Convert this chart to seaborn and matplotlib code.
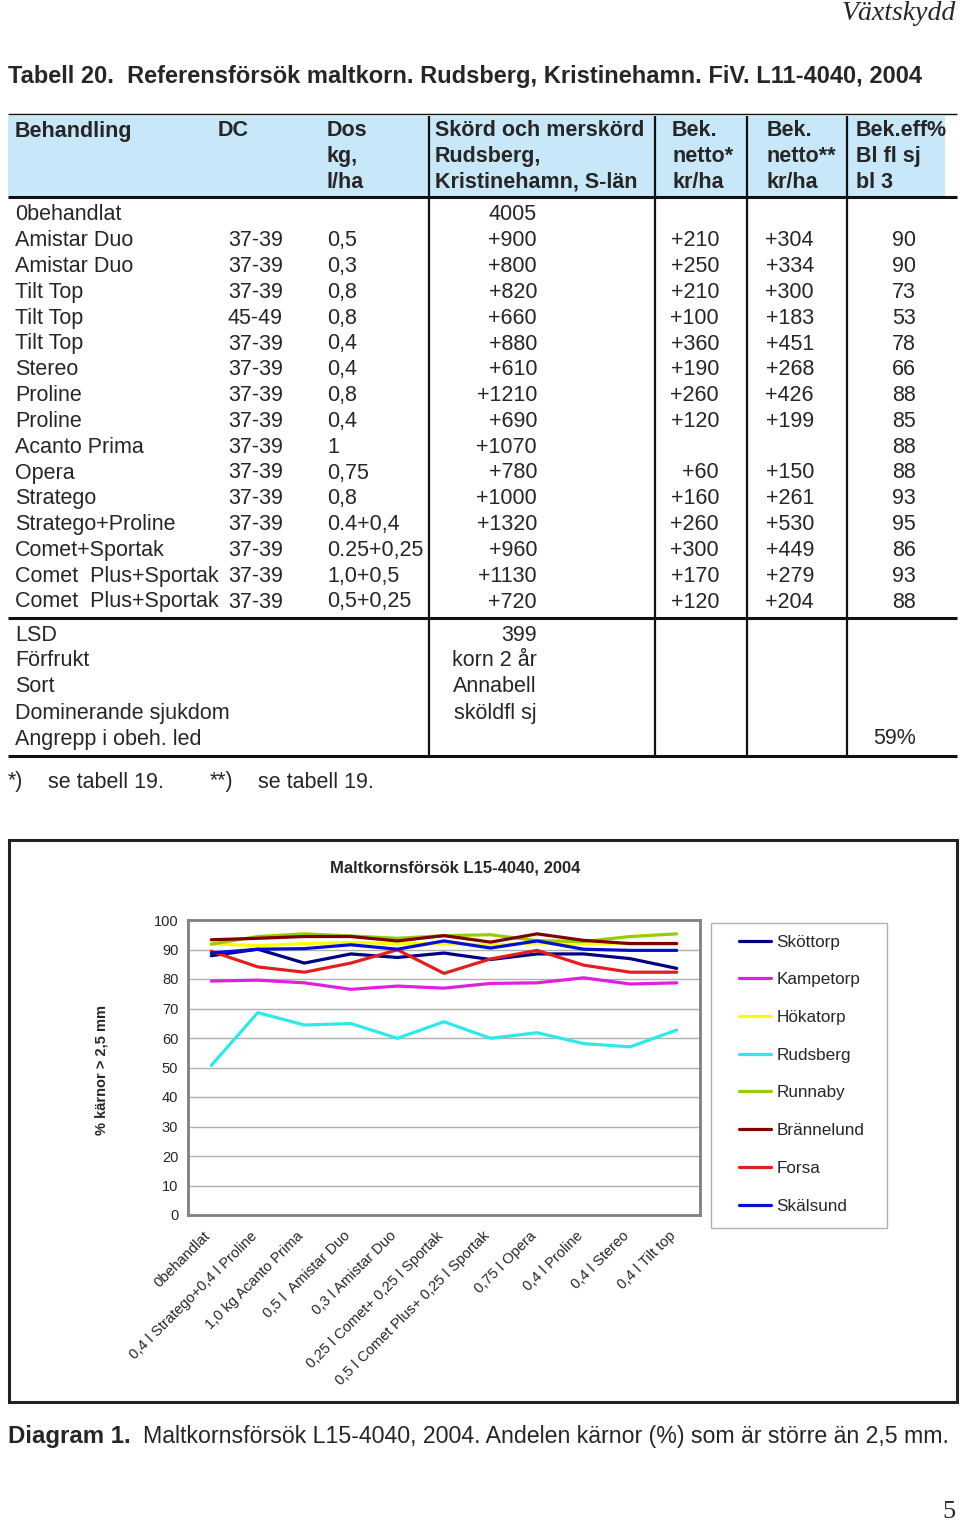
import numpy as np
import pandas as pd
import matplotlib
matplotlib.use("Agg")
import matplotlib.pyplot as plt
import matplotlib.transforms as mtransforms
import seaborn as sns
from matplotlib.patches import Rectangle
from matplotlib.lines import Line2D

# ---------------- data ----------------
behandling = ["0behandlat", "Amistar Duo", "Amistar Duo", "Tilt Top", "Tilt Top", "Tilt Top",
              "Stereo", "Proline", "Proline", "Acanto Prima", "Opera", "Stratego",
              "Stratego+Proline", "Comet+Sportak", "Comet  Plus+Sportak", "Comet  Plus+Sportak"]
dc = ["", "37-39", "37-39", "37-39", "45-49", "37-39", "37-39", "37-39", "37-39", "37-39",
      "37-39", "37-39", "37-39", "37-39", "37-39", "37-39"]
dos = ["", "0,5", "0,3", "0,8", "0,8", "0,4", "0,4", "0,8", "0,4", "1", "0,75", "0,8",
       "0.4+0,4", "0.25+0,25", "1,0+0,5", "0,5+0,25"]
skord = ["4005", "+900", "+800", "+820", "+660", "+880", "+610", "+1210", "+690", "+1070",
         "+780", "+1000", "+1320", "+960", "+1130", "+720"]
netto1 = ["", "+210", "+250", "+210", "+100", "+360", "+190", "+260", "+120", "", "+60",
          "+160", "+260", "+300", "+170", "+120"]
netto2 = ["", "+304", "+334", "+300", "+183", "+451", "+268", "+426", "+199", "", "+150",
          "+261", "+530", "+449", "+279", "+204"]
beff = ["", "90", "90", "73", "53", "78", "66", "88", "85", "88", "88", "93", "95", "86", "93", "88"]

extra_labels = ["LSD", "Förfrukt", "Sort", "Dominerande sjukdom", "Angrepp i obeh. led"]
extra_values = ["399", "korn 2 år", "Annabell", "sköldfl sj", ""]
angrepp = "59%"

header_cols = [["Behandling"], ["DC"], ["Dos", "kg,", "l/ha"],
               ["Skörd och merskörd", "Rudsberg,", "Kristinehamn, S-län"],
               ["Bek.", "netto*", "kr/ha"], ["Bek.", "netto**", "kr/ha"],
               ["Bek.eff", "Bl fl sj", "bl 3"]]

categories = ["0behandlat", "0,4 l Stratego+0,4 l Proline", "1,0 kg Acanto Prima",
              "0,5 l  Amistar Duo", "0,3 l Amistar Duo", "0,25 l Comet+ 0,25 l Sportak",
              "0,5 l Comet Plus+ 0,25 l Sportak", "0,75 l Opera", "0,4 l Proline",
              "0,4 l Stereo", "0,4 l Tilt top"]
stations = ["Sköttorp", "Kampetorp", "Hökatorp", "Rudsberg", "Runnaby", "Brännelund",
            "Forsa", "Skälsund"]
skottorp = [87.9, 90.1, 85.4, 88.5, 87.3, 88.8, 86.6, 88.5, 88.5, 86.9, 83.6]
kampetorp = [79.3, 79.6, 78.7, 76.5, 77.6, 76.9, 78.5, 78.7, 80.4, 78.3, 78.7]
hokatorp = [91.9, 91.3, 92.0, 92.4, 92.0, 92.0, 91.5, 92.2, 91.9, 92.2, 92.2]
rudsberg = [50.7, 68.6, 64.4, 64.9, 59.9, 65.5, 59.9, 61.8, 58.1, 57.0, 62.7]
runnaby = [91.8, 94.4, 95.3, 94.6, 93.8, 94.7, 95.0, 93.0, 92.7, 94.4, 95.3]
brannelund = [93.3, 93.8, 94.4, 94.4, 92.9, 94.7, 92.5, 95.3, 93.1, 92.0, 92.0]
forsa = [89.4, 84.1, 82.3, 85.4, 89.9, 81.9, 86.8, 89.7, 84.7, 82.3, 82.3]
skalsund = [88.8, 90.1, 90.3, 91.6, 90.1, 92.9, 90.5, 92.9, 90.1, 89.7, 89.7]
series = [skottorp, kampetorp, hokatorp, rudsberg, runnaby, brannelund, forsa, skalsund]
colors = ["#000080", "#e020e0", "#ffff00", "#30e8e8", "#99cc00", "#800000", "#e02020", "#0010d0"]

# ---------------- figure ----------------
W, H = 960, 1524
sns.set_style("white")
plt.rcParams["font.family"] = ["Liberation Sans", "DejaVu Sans"]
NARROW = ["Liberation Sans Narrow", "Liberation Sans", "DejaVu Sans"]

fig = plt.figure(figsize=(W / 100, H / 100), dpi=100)


def fx(x):
    return x / W


def fy(y):
    return 1 - y / H


def txt(x, y, s, **kw):
    kw.setdefault("va", "center")
    fig.text(fx(x), fy(y), s, **kw)


def line(x0, y0, x1, y1, lw, color="#111111"):
    fig.add_artist(Line2D([fx(x0), fx(x1)], [fy(y0), fy(y1)], color=color, lw=lw,
                          transform=fig.transFigure, solid_capstyle="butt"))


# page header
txt(956, 13, "Växtskydd", ha="right", fontsize=20, style="italic", family="Liberation Serif")
txt(8, 76, "Tabell 20.  Referensförsök maltkorn. Rudsberg, Kristinehamn. FiV. L11-4040, 2004",
    ha="left", fontsize=17, fontweight="bold", family=NARROW)

# table header band
fig.add_artist(Rectangle((fx(8), fy(196)), (945 - 8) / W, (196 - 116) / H,
                         facecolor="#c8e7f8", edgecolor="none", transform=fig.transFigure))
line(8, 114, 957, 114, 1.0)
line(8, 197, 957, 197, 2.2)
line(8, 618, 957, 618, 2.2)
line(8, 756, 957, 756, 2.2)
for xv in [429, 655, 747, 847]:
    line(xv, 116, xv, 756, 1.6)

hx = [15, 218, 327, 435, 672, 767, 856]
for x, lines_ in zip(hx, header_cols):
    for k, s in enumerate(lines_):
        txt(x, 131 + k * 25.5, s, ha="left", fontsize=15.5, fontweight="bold", family=NARROW)
txt(946, 131, "%", ha="right", fontsize=15.5, fontweight="bold", family=NARROW)

# table body
body_fs = 15.5
for i in range(len(behandling)):
    y = 215 + i * 25.8
    txt(15, y, behandling[i], ha="left", fontsize=body_fs)
    txt(228, y, dc[i], ha="left", fontsize=body_fs)
    txt(327, y, dos[i], ha="left", fontsize=body_fs)
    txt(537, y, skord[i], ha="right", fontsize=body_fs)
    txt(719, y, netto1[i], ha="right", fontsize=body_fs)
    txt(814, y, netto2[i], ha="right", fontsize=body_fs)
    txt(916, y, beff[i], ha="right", fontsize=body_fs)

for i, (lab, val) in enumerate(zip(extra_labels, extra_values)):
    y = 635 + i * 26
    txt(15, y, lab, ha="left", fontsize=body_fs)
    txt(537, y, val, ha="right", fontsize=body_fs)
txt(916, 739, angrepp, ha="right", fontsize=body_fs)

txt(8, 782, "*)", ha="left", fontsize=body_fs)
txt(48, 782, "se tabell 19.", ha="left", fontsize=body_fs)
txt(210, 782, "**)", ha="left", fontsize=body_fs)
txt(258, 782, "se tabell 19.", ha="left", fontsize=body_fs)

# chart frame
fig.add_artist(Rectangle((fx(9), fy(1402)), (957 - 9) / W, (1402 - 840) / H,
                         facecolor="none", edgecolor="#222222", lw=2.2, transform=fig.transFigure))
txt(455, 868, "Maltkornsförsök L15-4040, 2004", ha="center", fontsize=12,
    fontweight="bold", family=NARROW)

# line chart
rows = []
for st, vals in zip(stations, series):
    for j, v in enumerate(vals):
        rows.append({"Plats": st, "pos": j, "value": v})
df = pd.DataFrame(rows)

ax = fig.add_axes([fx(188), fy(1215), (700 - 188) / W, (1215 - 920) / H])
sns.lineplot(data=df, x="pos", y="value", hue="Plats", hue_order=stations,
             palette=dict(zip(stations, colors)), linewidth=2.3, ax=ax)
ax.set_xlim(-0.5, len(categories) - 0.5)
ax.set_ylim(0, 100)
ax.set_xticks(range(len(categories)))
ax.set_xticklabels(categories, rotation=45, ha="right", rotation_mode="anchor", fontsize=10.5)
ax.tick_params(axis="x", which="major", length=0, pad=10)
shift = mtransforms.ScaledTranslation(-8 / 100, 0, fig.dpi_scale_trans)
for lab in ax.get_xticklabels():
    lab.set_transform(lab.get_transform() + shift)
ax.set_xticks(np.arange(-0.5, len(categories), 1), minor=True)
ax.tick_params(axis="x", which="minor", length=5, width=1, direction="out", color="#777777")
ax.set_yticks(range(0, 101, 10))
ax.tick_params(axis="y", length=5, width=1, direction="out", labelsize=10.5, color="#777777", pad=2)
ax.grid(axis="y", color="#b0b0b0", lw=1)
ax.set_axisbelow(True)
for s in ax.spines.values():
    s.set_color("#808080")
    s.set_linewidth(2)
ax.set_xlabel("")
ax.set_ylabel("")
txt(101, 1070, "% kärnor > 2,5 mm", ha="center", rotation=90, fontsize=10.5, fontweight="bold")

handles, labels = ax.get_legend_handles_labels()
ax.legend(handles, labels, loc="upper left", bbox_to_anchor=(fx(730), fy(926)),
          bbox_transform=fig.transFigure, frameon=False, fontsize=12.3, borderpad=0,
          handlelength=1.9, handletextpad=0.3, labelspacing=1.33)
fig.add_artist(Rectangle((fx(711), fy(1228)), (887 - 711) / W, (1228 - 923) / H,
                         facecolor="none", edgecolor="#b0b0b0", lw=1, transform=fig.transFigure))

# caption and page number
txt(8, 1437, "Diagram 1.", ha="left", fontsize=17.3, fontweight="bold")
txt(143, 1437, "Maltkornsförsök L15-4040, 2004. Andelen kärnor (%) som är större än 2,5 mm.",
    ha="left", fontsize=16.7)
txt(955, 1512, "5", ha="right", fontsize=19, family="Liberation Serif")

fig.savefig("out.png", dpi=100)
